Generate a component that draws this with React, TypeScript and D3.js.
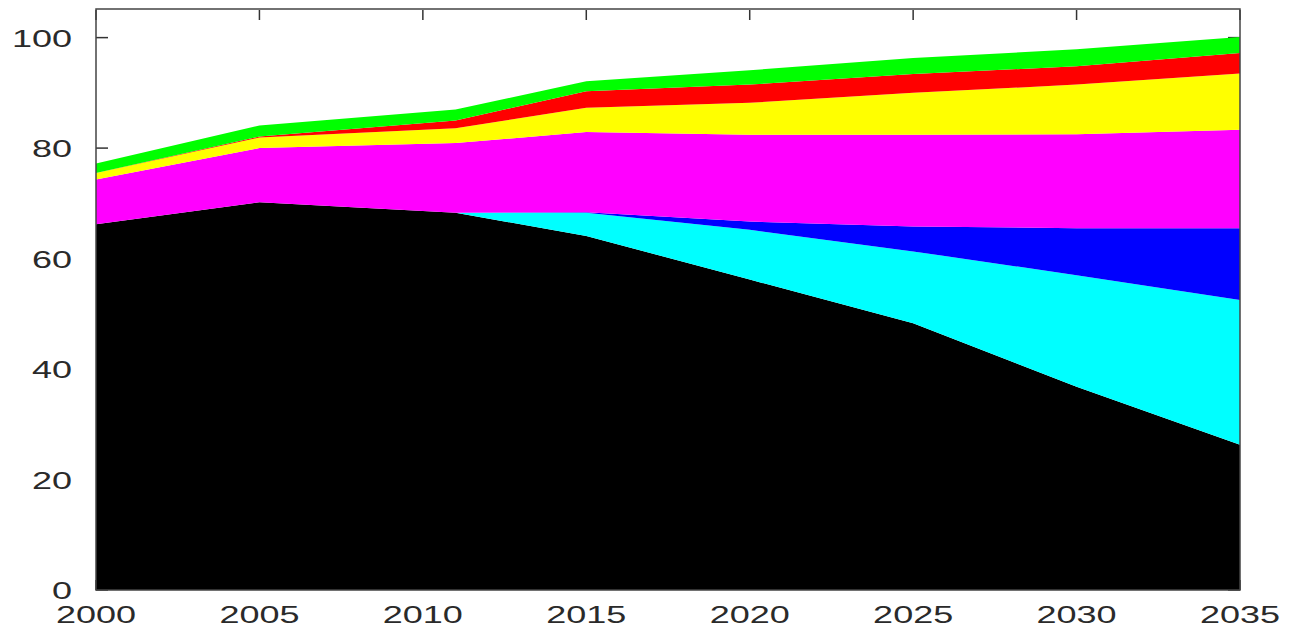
import React, { useEffect, useRef } from 'react';
import * as d3 from 'd3';

// years of the projection
const years = [2000, 2005, 2011, 2015, 2020, 2025, 2030, 2035];

// each series is its own share, stacked from the bottom up
const blackSeries = [66.2, 70.2, 68.3, 64.1, 56.2, 48.3, 36.8, 26.3];
const cyanSeries = [0, 0, 0, 4.2, 9.0, 13.0, 20.2, 26.2];
const blueSeries = [0, 0, 0, 0.1, 1.5, 4.5, 8.5, 13.0];
const magentaSeries = [8.1, 9.8, 12.6, 14.5, 15.7, 16.6, 17.0, 17.8];
const yellowSeries = [1.2, 1.9, 2.7, 4.4, 5.8, 7.6, 9.0, 10.2];
const redSeries = [0, 0.2, 1.4, 3.0, 3.3, 3.4, 3.3, 3.7];
const greenSeries = [1.7, 2.0, 2.0, 1.8, 2.6, 2.9, 3.1, 2.9];

const seriesKeys = ['black', 'cyan', 'blue', 'magenta', 'yellow', 'red', 'green'];
const seriesColors = ['#000000', '#00ffff', '#0000ff', '#ff00ff', '#ffff00', '#ff0000', '#00ff00'];

const xTicks = [2000, 2005, 2010, 2015, 2020, 2025, 2030, 2035];
const yTicks = [0, 20, 40, 60, 80, 100];

const App = () => {
  const svgRef = useRef(null);

  useEffect(() => {
    const width = 1306;
    const height = 629;
    const left = 96, right = 1240, top = 10, bottom = 590;

    const svg = d3.select(svgRef.current)
      .attr('width', width)
      .attr('height', height);
    svg.selectAll('*').remove();

    // table for d3.stack
    const table = years.map((year, i) => ({
      year,
      black: blackSeries[i],
      cyan: cyanSeries[i],
      blue: blueSeries[i],
      magenta: magentaSeries[i],
      yellow: yellowSeries[i],
      red: redSeries[i],
      green: greenSeries[i],
    }));

    const x = d3.scaleLinear().domain([2000, 2035]).range([left, right]);
    const y = d3.scaleLinear().domain([0, 105]).range([bottom, top]);

    // ticks sit behind the fills, gnuplot style (inside, mirrored)
    const ticks = svg.append('g').attr('stroke', '#333').attr('stroke-width', 1.5);
    yTicks.forEach(t => {
      ticks.append('line').attr('x1', left).attr('x2', left + 12).attr('y1', y(t)).attr('y2', y(t));
      ticks.append('line').attr('x1', right).attr('x2', right - 12).attr('y1', y(t)).attr('y2', y(t));
    });
    xTicks.forEach(t => {
      ticks.append('line').attr('x1', x(t)).attr('x2', x(t)).attr('y1', top).attr('y2', top + 10);
      ticks.append('line').attr('x1', x(t)).attr('x2', x(t)).attr('y1', bottom).attr('y2', bottom - 10);
    });

    const stack = d3.stack().keys(seriesKeys);
    const layers = stack(table);

    const area = d3.area()
      .x(d => x(d.data.year))
      .y0(d => y(d[0]))
      .y1(d => y(d[1]));

    svg.append('g')
      .selectAll('path')
      .data(layers)
      .enter()
      .append('path')
      .attr('d', area)
      .attr('fill', (d, i) => seriesColors[i]);

    // frame
    svg.append('rect')
      .attr('x', left)
      .attr('y', top - 1)
      .attr('width', right - left)
      .attr('height', bottom - top + 1)
      .attr('fill', 'none')
      .attr('stroke', '#444')
      .attr('stroke-width', 1.5);

    // labels - the original is stretched sideways
    const font = '"Liberation Sans", Arial, sans-serif';
    yTicks.forEach(t => {
      svg.append('text')
        .attr('transform', `translate(72,${y(t) + 9}) scale(1.5,1)`)
        .attr('text-anchor', 'end')
        .attr('font-family', font)
        .attr('font-size', 24)
        .attr('fill', '#2a2a2a')
        .text(t);
    });
    xTicks.forEach(t => {
      svg.append('text')
        .attr('transform', `translate(${x(t)},623) scale(1.5,1)`)
        .attr('text-anchor', 'middle')
        .attr('font-family', font)
        .attr('font-size', 24)
        .attr('fill', '#2a2a2a')
        .text(t);
    });
  }, []);

  return (
    <svg ref={svgRef} style={{ position: 'absolute', left: 0, top: 0, display: 'block' }}></svg>
  );
};

export default App;
